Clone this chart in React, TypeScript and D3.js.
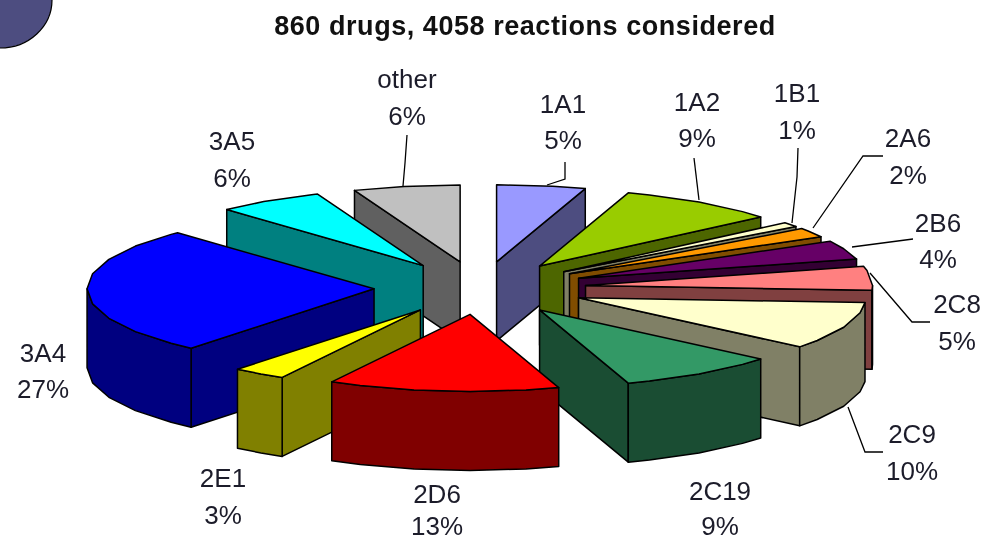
import React from "react";
import * as d3 from "d3";

const categories = ["1A1","1A2","1B1","2A6","2B6","2C8","2C9","2C19","2D6","2E1","3A4","3A5","other"];
const percents = [5,9,1,2,4,5,10,9,13,3,27,6,6];
const topColors = ["#9999FF","#99CC00","#FFFFCC","#FF9900","#660066","#FF8080","#FFFFCC","#339966","#FF0000","#FFFF00","#0000FF","#00FFFF","#C0C0C0"];
const sideColors = ["#4D4D80","#4D6600","#808066","#804D00","#330033","#804040","#808066","#1A4D33","#800000","#808000","#000080","#008080","#606060"];
const titleText = "860 drugs, 4058 reactions considered";

// layout (not data)
const W = 985, H = 542;
const cx = 480, cy = 288, rx = 287, ry = 77, depth = 79, explodeX = 106, explodeY = 26.5, arcStep = Math.PI / 16;
const labelLayout: Record<string, [number, number, number]> = {
  "1A1": [563, 113, 149], "1A2": [697, 111, 147], "1B1": [797, 102, 139], "2A6": [908, 147, 184],
  "2B6": [938, 232, 268], "2C8": [957, 313, 350], "2C9": [912, 443, 480], "2C19": [720, 500, 535],
  "2D6": [437, 503, 535], "2E1": [223, 487, 524], "3A4": [43, 362, 398], "3A5": [232, 150, 187], other: [407, 88, 125],
};
const leaders: [number, number][][] = [
  [[407,135],[405,163],[403,186]],
  [[565,162],[565,179],[547,185]],
  [[694,158],[699,200]],
  [[798,148],[797,177],[792,223]],
  [[883,156],[863,156],[813,228]],
  [[913,239],[852,247]],
  [[930,322],[912,322],[870,273]],
  [[883,452],[865,452],[848,407]],
];

const line = d3.line<[number, number]>().x(d => d[0]).y(d => d[1]);

export default function App() {
  const slices = d3.pie<number>().sort(null).startAngle(0).endAngle(2 * Math.PI)(percents);
  const wedges = slices.map((s, i) => {
    const mid = (s.startAngle + s.endAngle) / 2;
    const ax = cx + explodeX * Math.sin(mid);
    const ay = cy - explodeY * Math.cos(mid);
    const P = (t: number, dz = 0): [number, number] => [ax + rx * Math.sin(t), ay - ry * Math.cos(t) + dz];
    const arcAngles = (a: number, b: number) => {
      const out = d3.range(Math.ceil(a / arcStep + 1e-6) * arcStep, b - 1e-6, arcStep);
      return [a, ...out, b];
    };
    const arcPts = arcAngles(s.startAngle, s.endAngle).map(t => P(t));
    const top = [[ax, ay] as [number, number], ...arcPts];
    const faces: { d: string }[] = [];
    const radial = (t: number) => [[ax, ay], P(t), P(t, depth), [ax, ay + depth]] as [number, number][];
    if (Math.sin(s.startAngle) < -1e-6) faces.push({ d: line(radial(s.startAngle))! + "Z" });
    if (Math.sin(s.endAngle) > 1e-6) faces.push({ d: line(radial(s.endAngle))! + "Z" });
    const r0 = Math.max(s.startAngle, Math.PI / 2), r1 = Math.min(s.endAngle, 1.5 * Math.PI);
    if (r1 > r0) {
      const pts = arcAngles(r0, r1);
      const rim = [...pts.map(t => P(t)), ...pts.slice().reverse().map(t => P(t, depth))];
      faces.push({ d: line(rim)! + "Z" });
    }
    return { i, ay, faces, top: line(top)! + "Z" };
  });
  const ordered = wedges.slice().sort((a, b) => d3.ascending(a.ay, b.ay));
  const font = "'Liberation Sans', Arial, sans-serif";
  return (
    <svg width={W} height={H} viewBox={`0 0 ${W} ${H}`}
      style={{ position: "absolute", left: 0, top: 0, background: "#fff", filter: "blur(0.6px)" }}>
      <ellipse cx={0} cy={0} rx={52} ry={48} fill="#4D4D80" stroke="#000" strokeWidth={1.2} />
      <text x={525} y={35} textAnchor="middle" fontFamily={font} fontWeight="bold" fontSize={27} letterSpacing={0.55} fill="#111">{titleText}</text>
      {ordered.map(w => (
        <g key={w.i} stroke="#000" strokeWidth={1.5} strokeLinejoin="round">
          {w.faces.map((f, j) => <path key={j} d={f.d} fill={sideColors[w.i]} />)}
          <path d={w.top} fill={topColors[w.i]} />
        </g>
      ))}
      {leaders.map((l, i) => <path key={i} d={line(l)!} fill="none" stroke="#000" strokeWidth={1.3} />)}
      {categories.map((c, i) => {
        const [x, y1, y2] = labelLayout[c];
        return (
          <g key={c} fontFamily={font} fontSize={26} fill="#1c1c2a" textAnchor="middle">
            <text x={x} y={y1}>{c}</text>
            <text x={x} y={y2}>{percents[i]}%</text>
          </g>
        );
      })}
    </svg>
  );
}
